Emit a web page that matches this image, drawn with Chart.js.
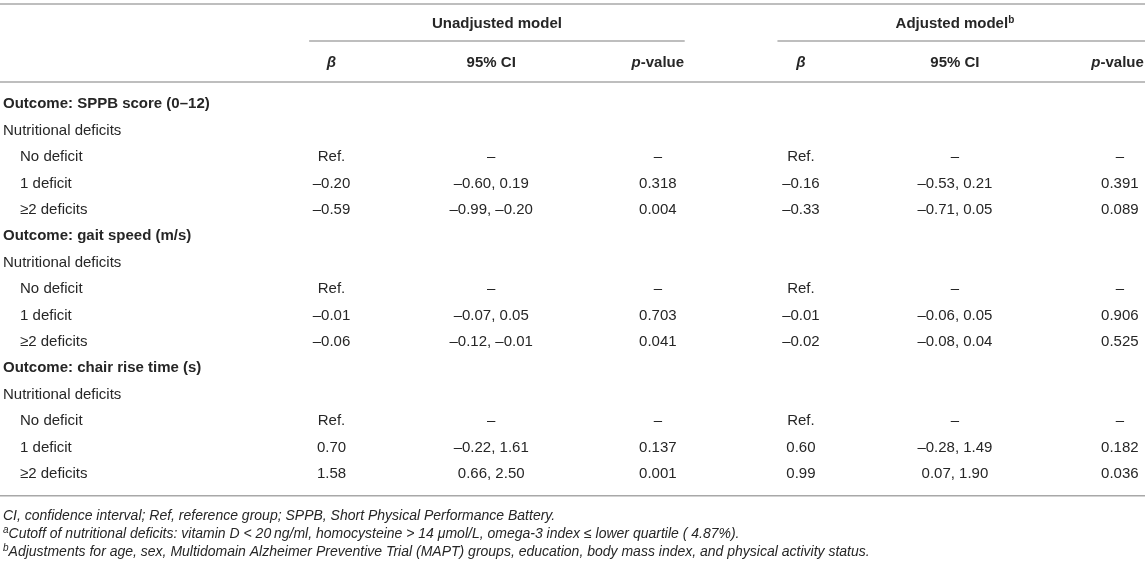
<!DOCTYPE html>
<html>
<head>
<meta charset="utf-8">
<script src="https://cdn.jsdelivr.net/npm/chart.js@4.4.1/dist/chart.umd.min.js"></script>
<style>
  html, body { margin: 0; padding: 0; background: #fff; }
  #wrap { width: 1145px; height: 565px; }
</style>
</head>
<body>
<div id="wrap"><canvas id="tbl" width="1145" height="565"></canvas></div>
<script>
// Table content.
const OUTCOMES = ['Outcome: SPPB score (0–12)', 'Outcome: gait speed (m/s)', 'Outcome: chair rise time (s)'];
const GROUP_LABEL = 'Nutritional deficits';
const LEVELS = ['No deficit', '1 deficit', '≥2 deficits'];
const MODELS = ['Unadjusted model', 'Adjusted model'];
const COLUMNS = ['β', '95% CI', 'p-value'];

// one entry per level row (3 per outcome); null = reference group
const UNADJ_BETA = [null, -0.20, -0.59, null, -0.01, -0.06, null, 0.70, 1.58];
const UNADJ_LO   = [null, -0.60, -0.99, null, -0.07, -0.12, null, -0.22, 0.66];
const UNADJ_HI   = [null, 0.19, -0.20, null, 0.05, -0.01, null, 1.61, 2.50];
const UNADJ_P    = [null, 0.318, 0.004, null, 0.703, 0.041, null, 0.137, 0.001];
const ADJ_BETA   = [null, -0.16, -0.33, null, -0.01, -0.02, null, 0.60, 0.99];
const ADJ_LO     = [null, -0.53, -0.71, null, -0.06, -0.08, null, -0.28, 0.07];
const ADJ_HI     = [null, 0.21, 0.05, null, 0.05, 0.04, null, 1.49, 1.90];
const ADJ_P      = [null, 0.391, 0.089, null, 0.906, 0.525, null, 0.182, 0.036];

const FOOTNOTES = [
  [{t: 'CI, confidence interval; Ref, reference group; SPPB, Short Physical Performance Battery.'}],
  [{t: 'a', sup: true}, {t: 'Cutoff of nutritional deficits: vitamin D < 20\u2009ng/ml, homocysteine > 14 \u03bcmol/L, omega-3 index \u2264 lower quartile ( 4.87%).'}],
  [{t: 'b', sup: true}, {t: 'Adjustments for age, sex, Multidomain Alzheimer Preventive Trial (MAPT) groups, education, body mass index, and physical activity status.'}],
];

// Layout (x in % of width, y in row units)
const LABEL_X = 0.26, INDENT_X = 1.75;
const COL_X = [28.95, 42.9, 57.45, 69.95, 83.4, 97.8];
const SPANS = [[27.0, 59.8], [67.9, 100]];
const Y_TOP_RULE = -3.8, Y_MODEL = -3.03, Y_SPAN_RULE = -2.39, Y_HEAD = -1.58, Y_HEAD_RULE = -0.84;
const Y_BOTTOM_RULE = 14.83, Y_NOTES = [15.6, 16.3, 16.98];

const FONT = '"Liberation Sans", Arial, sans-serif';
const INK = '#262626';
const RULE = '#a8a8a8';

function dash(v) { return (v < 0 ? '–' : '') + Math.abs(v).toFixed(2); }

// build row list
const rows = [];
OUTCOMES.forEach((o, oi) => {
  rows.push({label: o, kind: 'outcome'});
  rows.push({label: GROUP_LABEL, kind: 'group'});
  LEVELS.forEach((lv, li) => rows.push({label: lv, kind: 'level', k: oi * 3 + li}));
});

function cellText(r, beta, lo, hi, p, col) {
  if (r.kind !== 'level') return null;
  const k = r.k;
  if (beta[k] === null) return col === 0 ? 'Ref.' : '–';
  if (col === 0) return dash(beta[k]);
  if (col === 1) return dash(lo[k]) + ', ' + dash(hi[k]);
  return p[k].toFixed(3);
}

const modelData = [
  [UNADJ_BETA, UNADJ_LO, UNADJ_HI, UNADJ_P],
  [ADJ_BETA, ADJ_LO, ADJ_HI, ADJ_P],
];

const datasets = [];
datasets.push({
  label: 'labels',
  data: rows.map((r, i) => ({x: r.kind === 'level' ? INDENT_X : LABEL_X, y: i, text: r.label, kind: r.kind})),
  align: 'left',
});
modelData.forEach((m, mi) => {
  for (let c = 0; c < 3; c++) {
    const pts = [];
    rows.forEach((r, i) => {
      const t = cellText(r, m[0], m[1], m[2], m[3], c);
      if (t !== null) pts.push({x: COL_X[mi * 3 + c], y: i, text: t});
    });
    datasets.push({label: MODELS[mi] + ' ' + COLUMNS[c], data: pts, align: 'center'});
  }
});
datasets.forEach(d => { d.pointRadius = 0; d.showLine = false; });

function drawRich(ctx, parts, x, y, align) {
  let w = 0;
  parts.forEach(p => { ctx.font = p.font; w += ctx.measureText(p.t).width; });
  let cx = align === 'center' ? x - w / 2 : align === 'right' ? x - w : x;
  ctx.textAlign = 'left';
  parts.forEach(p => {
    ctx.font = p.font;
    ctx.fillText(p.t, cx, y + (p.dy || 0));
    cx += ctx.measureText(p.t).width;
  });
}

const tablePlugin = {
  id: 'tableText',
  afterDatasetsDraw(chart) {
    const ctx = chart.ctx;
    const xs = chart.scales.x, ys = chart.scales.y;
    ctx.save();
    ctx.fillStyle = INK;
    ctx.textBaseline = 'middle';

    // body cells
    chart.data.datasets.forEach((ds, di) => {
      const meta = chart.getDatasetMeta(di);
      meta.data.forEach((el, i) => {
        const pt = ds.data[i];
        ctx.font = (pt.kind === 'outcome' ? 'bold ' : '') + '15px ' + FONT;
        ctx.textAlign = ds.align;
        ctx.fillText(pt.text, el.x, el.y);
      });
    });

    // rules
    ctx.strokeStyle = RULE;
    ctx.lineWidth = 1.5;
    const hline = (y, x0, x1) => {
      const py = ys.getPixelForValue(y);
      ctx.beginPath();
      ctx.moveTo(xs.getPixelForValue(x0), py);
      ctx.lineTo(xs.getPixelForValue(x1), py);
      ctx.stroke();
    };
    hline(Y_TOP_RULE, 0, 100);
    SPANS.forEach(s => hline(Y_SPAN_RULE, s[0], s[1]));
    hline(Y_HEAD_RULE, 0, 100);
    hline(Y_BOTTOM_RULE, 0, 100);

    // model headers
    const bold = 'bold 15px ' + FONT;
    const ym = ys.getPixelForValue(Y_MODEL);
    drawRich(ctx, [{t: MODELS[0], font: bold}], xs.getPixelForValue((SPANS[0][0] + SPANS[0][1]) / 2), ym, 'center');
    drawRich(ctx, [{t: MODELS[1], font: bold}, {t: 'b', font: 'bold 10px ' + FONT, dy: -4}],
      xs.getPixelForValue(COL_X[4]), ym, 'center');

    // column headers
    const yh = ys.getPixelForValue(Y_HEAD);
    for (let c = 0; c < 6; c++) {
      const name = COLUMNS[c % 3];
      let parts;
      if (name === 'β') parts = [{t: 'β', font: 'italic bold 15px ' + FONT}];
      else if (name === 'p-value') parts = [{t: 'p', font: 'italic bold 15px ' + FONT}, {t: '-value', font: bold}];
      else parts = [{t: name, font: bold}];
      const last = c === 5;
      drawRich(ctx, parts, xs.getPixelForValue(last ? 99.9 : COL_X[c]), yh, last ? 'right' : 'center');
    }

    // footnotes
    FOOTNOTES.forEach((line, i) => {
      const parts = line.map(p => p.sup
        ? {t: p.t, font: 'italic 10px ' + FONT, dy: -4}
        : {t: p.t, font: 'italic 14px ' + FONT});
      drawRich(ctx, parts, xs.getPixelForValue(LABEL_X), ys.getPixelForValue(Y_NOTES[i]), 'left');
    });
    ctx.restore();
  }
};

new Chart(document.getElementById('tbl'), {
  type: 'scatter',
  data: {datasets},
  options: {
    responsive: false,
    animation: false,
    events: [],
    layout: {padding: 0},
    scales: {
      x: {type: 'linear', min: 0, max: 100, display: false},
      y: {type: 'linear', min: -3.947, max: 17.455, reverse: true, display: false},
    },
    plugins: {legend: {display: false}, tooltip: {enabled: false}},
  },
  plugins: [tablePlugin],
});
</script>
</body>
</html>
